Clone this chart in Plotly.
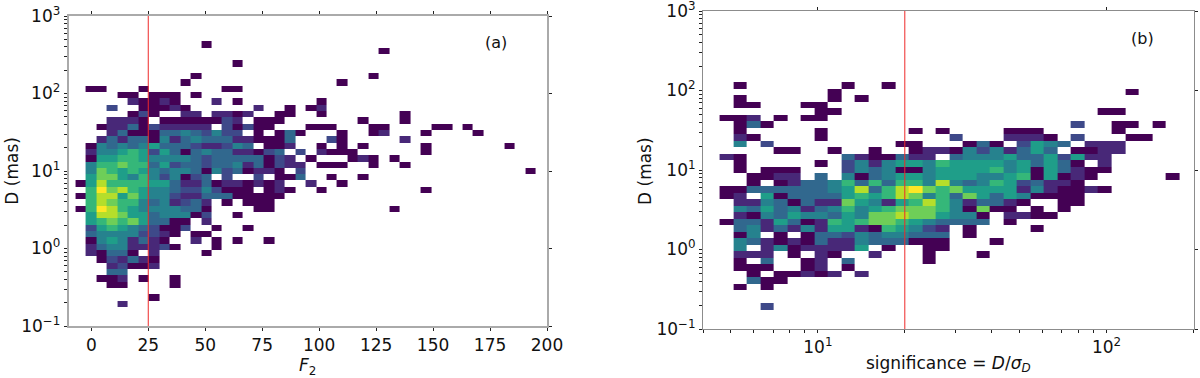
import numpy as np
import plotly.graph_objects as go

FONT = "DejaVu Sans"
W, H = 1200, 378

# Histogram levels per row (row index counted from the top of the plot),
# '.' = empty bin, 0..9 = colour level on the viridis scale.
rows_a = {
    4: "............0",
    5: "." * 29 + "0",
    7: "." * 15 + "0",
    9: "." * 11 + "0" + "." * 16 + "0",
    10: "." * 10 + "0" + "." * 14 + "0",
    11: ".00...0.......00",
    12: "....00.000.0",
    13: ".....10010...1.0.......0",
    14: "...2..00010......1..0.01",
    15: ".....020..11.1101..00..0.......0",
    16: "...1110.00000021.000.......0...0",
    17: "..01130211111.20200...000...00....00.0",
    18: "...1300033432422.0.030...0..01...0....0",
    19: "..1313304134333110003...20.....1",
    20: ".0434345333211243.001..0.0.0.....0.......0",
    21: ".1445652530343311023.2.1000......0",
    22: ".05566544443233333021.0...010.0",
    23: ".466766352332334130211.000..0..0",
    24: ".4765654344304230110.2" + "." * 21 + "0",
    25: ".577546424023.2..2.003..0..0",
    26: "05866665531130110101..1..0",
    27: ".6978654432242000.010..0.........0",
    28: "06885754421133300000",
    29: ".687664341231.0.000",
    30: "0698654444330....00...........0",
    31: ".588755344402..0",
    32: ".5676753300.1",
    33: ".2565432002..0..0",
    34: ".344442210.00",
    35: ".04541310..1.0.0..0",
    36: ".134411120...0",
    37: ".10330.1....0",
    38: "..021310",
    39: "...12001",
    40: "...33",
    41: "..001.0..0",
    42: "...00....0",
    44: ".......0",
    45: "....1",
}

rows_b = {
    11: ".0.......0..0",
    12: "........0" + "." * 21 + "0",
    13: ".0......0.0",
    14: ".00...00",
    15: ".......00" + "." * 19 + "00",
    16: "001.0.00",
    17: ".030" + "." * 22 + "2..00.0",
    18: ".0.....0......0.0....000.....0",
    19: ".10....0" + "." * 9 + "2...1110.2...00",
    20: ".4.2" + "." * 9 + "00...030.2543.111",
    21: "....00..0..0..0" + "110" + "424" + "135" + "3.0011",
    22: "10......." + "31003" + "11." + "3444" + "5" + "33" + "5" + "2" + "5" + "11",
    23: ".0.....0." + "2414554" + "6" + "5555" + "4" + "5" + "3" + "5" + "3" + "0.1",
    24: ".0.000..." + "243" + "4" + "00" + "4555" + "5" + "6" + "4" + "5" + "0" + "5" + "3" + "1" + "00",
    25: "..0011.3.403" + "4" + "55" + "4" + "555" + "44" + "5" + "6" + "0" + "5" + "0" + "1" + "0" + "....." + "0",
    26: "..0.0" + "1334" + "636" + "3" + "66" + "4" + "8" + "4" + "3" + "4" + "6" + "5" + "2" + "3" + "11" + "0",
    27: "00" + "3333" + "33" + "4" + "5" + "8" + "3" + "6" + "8" + "9" + "7" + "6" + "7" + "5555" + "1" + "4" + "1" + "00" + "1" + "0",
    28: "01.50" + "3333" + "5" + "6" + "5" + "6" + "8" + "7" + "4" + "6" + "3" + "7" + "5" + "3" + "5" + "4" + "0000",
    29: ".114" + "30" + "311" + "7" + "5" + "4" + "1" + "5" + "6" + "8" + "6" + "4" + "1" + "33" + "1" + "0" + ".." + "00",
    30: ".435341346" + "4" + "5" + "6" + "777" + "6" + "4" + "0" + "7" + "00" + "." + "0" + "." + "0",
    31: ".10435" + "44" + "3" + "5" + "4" + "77" + "8" + "77" + "5" + "44" + "0" + "." + "11" + "00",
    32: "0331530" + "1" + "6" + "5" + "6" + "77" + "6" + "5" + "4" + "3333" + "." + "0",
    33: ".3413141" + "55" + "1" + "0" + "6" + "5" + "4" + "2" + "1" + "." + "0" + "...." + "0",
    34: ".04.0.0" + "33" + "2" + "4" + "3" + "44" + "333" + "." + "0",
    35: ".4310103" + "11" + "4" + "333" + "000" + "..." + "0",
    36: ".4.140" + "1111" + "5" + "." + "0" + ".." + "00",
    37: ".111.0.10..1...0...0",
    38: ".0.3..01.3.....0",
    39: ".000..01.0",
    40: "..0.00101.1",
    41: "..300",
    42: ".0.0",
    45: "...2",
}

F2_ticks = [0, 25, 50, 75, 100, 125, 150, 175, 200]
D_ticks = [0.1, 1, 10, 100, 1000]
D_tick_text = ["10<sup>\u22121</sup>", "10<sup>0</sup>", "10<sup>1</sup>", "10<sup>2</sup>", "10<sup>3</sup>"]
sig_ticks = [10, 100]
sig_tick_text = ["10<sup>1</sup>", "10<sup>2</sup>"]
F2_bin_start, F2_bin_width, F2_bins = -6.9, 4.59, 44
sig_log_start, sig_log_step, sig_bins = 0.6595, 0.04682, 34
D_bins = 49
F2_cut = 25
sig_cut = 20


def to_grid(rows, ncols):
    grid = [[None] * ncols for _ in range(D_bins)]
    for k, text in rows.items():
        for c, ch in enumerate(text):
            if ch != ".":
                grid[k][c] = int(ch)
    return grid[::-1]


y_edges = np.logspace(-1, 3, D_bins + 1)
x_edges_a = F2_bin_start + F2_bin_width * np.arange(F2_bins + 1)
x_edges_b = 10 ** (sig_log_start + sig_log_step * np.arange(sig_bins + 1))

fig = go.Figure()
for xa, ya, xe, rows, n in [("x", "y", x_edges_a, rows_a, F2_bins), ("x2", "y2", x_edges_b, rows_b, sig_bins)]:
    fig.add_trace(go.Heatmap(x=xe, y=y_edges, z=to_grid(rows, n), xaxis=xa, yaxis=ya,
                             colorscale="Viridis", zmin=0, zmax=9, showscale=False,
                             hoverongaps=False))

RED = "#ee2a2a"
fig.add_trace(go.Scatter(x=[F2_cut, F2_cut], y=[0.1, 1000], mode="lines", xaxis="x", yaxis="y",
                         line=dict(color=RED, width=1), showlegend=False))
fig.add_trace(go.Scatter(x=[sig_cut, sig_cut], y=[0.1, 1000], mode="lines", xaxis="x2", yaxis="y2",
                         line=dict(color=RED, width=1), showlegend=False))
# empty traces that keep the tick-only top/right axes alive
fig.add_trace(go.Scatter(x=[], y=[], xaxis="x3", yaxis="y3", showlegend=False))
fig.add_trace(go.Scatter(x=[], y=[], xaxis="x4", yaxis="y4", showlegend=False))

tickfont = dict(family=FONT, size=17, color="#111111")
titlefont = dict(family=FONT, size=17, color="#111111")
dom_ax = [68.5 / W, 547 / W]
dom_ay = [1 - 326 / H, 1 - 16 / H]
dom_bx = [703 / W, 1193.5 / W]
dom_by = [1 - 329 / H, 1 - 11 / H]
rng_bx = [np.log10(4), np.log10(200)]
minor = dict(ticks="outside", ticklen=2.5, tickwidth=0.8, tickcolor="#222222", dtick="D1", showgrid=False)
spine_a = dict(linecolor="#aaaaaa", linewidth=1.6)
spine_b = dict(linecolor="#8c8c8c", linewidth=1.1)
base = dict(showgrid=False, zeroline=False, showline=True,
            ticks="outside", ticklen=3, tickwidth=1, tickcolor="#222222", tickfont=tickfont,
            ticklabeloverflow="allow")
over = dict(showgrid=False, zeroline=False, showline=True,
            ticks="outside", ticklen=3, tickwidth=1, tickcolor="#222222", showticklabels=False)


def label(text, px, py, size=16, angle=0):
    return dict(text=text, xref="paper", yref="paper", x=px / W, y=1 - py / H, xanchor="center", yanchor="middle",
                showarrow=False, textangle=angle, font=dict(family=FONT, size=size, color="#111111"))


fig.update_layout(
    width=W, height=H, margin=dict(l=0, r=0, t=0, b=0, autoexpand=False), paper_bgcolor="white", plot_bgcolor="white",
    showlegend=False, hovermode=False,
    xaxis=dict(base, **spine_a, domain=dom_ax, range=[-10, 200], tickvals=F2_ticks, anchor="y", automargin=True,
               title=dict(text="<i>F</i><sub>2</sub>", font=titlefont, standoff=1)),
    yaxis=dict(base, **spine_a, domain=dom_ay, type="log", range=[-1, 3], tickvals=D_ticks, ticktext=D_tick_text,
               anchor="x", minor=minor),
    xaxis2=dict(base, **spine_b, domain=dom_bx, type="log", range=rng_bx, tickvals=sig_ticks, ticktext=sig_tick_text,
                anchor="y2", automargin=True, minor=minor,
                title=dict(text="significance = <i>D</i>/<i>σ</i><sub><i>D</i></sub>", font=titlefont, standoff=0)),
    yaxis2=dict(base, **spine_b, domain=dom_by, type="log", range=[-1, 3], tickvals=D_ticks, ticktext=D_tick_text,
                anchor="x2", minor=minor),
    xaxis3=dict(over, **spine_a, domain=dom_ax, range=[-10, 200], tickvals=F2_ticks, side="top", anchor="y3", overlaying="x"),
    yaxis3=dict(over, **spine_a, domain=dom_ay, type="log", range=[-1, 3], tickvals=D_ticks, side="right", anchor="x3", overlaying="y"),
    xaxis4=dict(over, **spine_b, domain=dom_bx, type="log", range=rng_bx, tickvals=sig_ticks, side="top", anchor="y4", overlaying="x2"),
    yaxis4=dict(over, **spine_b, domain=dom_by, type="log", range=[-1, 3], tickvals=D_ticks, side="right", anchor="x4", overlaying="y2"),
    annotations=[
        label("(a)", 496, 43),
        label("(b)", 1142, 39),
        label("D (mas)", 11.7, 171, size=17, angle=-90),
        label("D (mas)", 645, 171, size=17, angle=-90),
    ],
)
fig.write_html("out.html", post_script="document.body.style.margin='0';", config={"displayModeBar": False})
